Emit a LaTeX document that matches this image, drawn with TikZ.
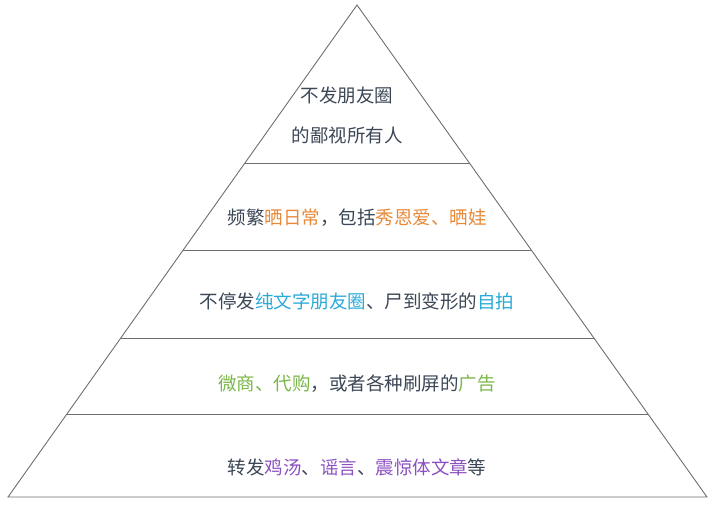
\documentclass[tikz,border=0pt]{standalone}
\usepackage{fontspec}
\newfontfamily\cjk{Noto Sans CJK SC}
\definecolor{tx}{HTML}{3B4656}
\definecolor{og}{HTML}{E8893A}
\definecolor{bl}{HTML}{29A9D8}
\definecolor{gr}{HTML}{7AB648}
\definecolor{pu}{HTML}{8A4FC0}
\definecolor{ln}{HTML}{6E6E6E}
\tikzset{lab/.style={font=\cjk\fontsize{18.5}{40}\selectfont, text=tx, align=center}}
\begin{document}
\begin{tikzpicture}[x=1pt,y=-1pt]
\useasboundingbox (0,0) rectangle (713,507);
\coordinate (A) at (357,5);
\coordinate (L) at (8,497);
\coordinate (R) at (707,497);
\draw[ln, line width=0.9pt, line join=miter] (A) -- (L) -- (R) -- cycle;
\foreach \y in {163,250,338,414}{
  \draw[ln, line width=0.9pt] ({357-0.7093*(\y-5)},\y) -- ({357+0.7114*(\y-5)},\y);
}
\node[lab] (t1) at (347,115) {不发朋友圈\\的鄙视所有人};
\node[lab] (t2) at (357,218) {频繁\textcolor{og}{晒日常}，包括\textcolor{og}{秀恩爱、晒娃}};
\node[lab] (t3) at (357,301) {不停发\textcolor{bl}{纯文字朋友圈}、尸到变形的\textcolor{bl}{自拍}};
\node[lab] (t4) at (357,384) {\textcolor{gr}{微商、代购}，或者各种刷屏的\textcolor{gr}{广告}};
\node[lab] (t5) at (357,467) {转发\textcolor{pu}{鸡汤}、\textcolor{pu}{谣言}、\textcolor{pu}{震惊体文章}等};
\end{tikzpicture}
\end{document}
